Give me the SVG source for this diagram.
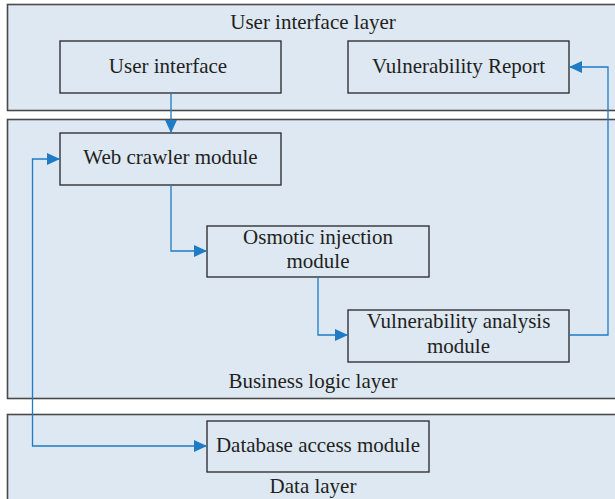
<svg xmlns="http://www.w3.org/2000/svg" width="615" height="499" viewBox="0 0 615 499">
  <style>
    .layer { fill: #dde8f3; stroke: #4a4a4a; stroke-width: 1.6; }
    .box { fill: #dde8f3; stroke: #333333; stroke-width: 1.4; }
    .label { font-family: "Liberation Serif", "Times New Roman", serif; font-size: 21px; fill: #231f20; text-anchor: middle; }
    .link { fill: none; stroke: #1f7bc4; stroke-width: 1.3; }
  </style>
  <defs>
    <marker id="arrow" viewBox="0 0 13 12" refX="13" refY="6" markerWidth="13" markerHeight="12" markerUnits="userSpaceOnUse" orient="auto-start-reverse">
      <path d="M0,0 L13,6 L0,12 Z" fill="#1f7bc4"/>
    </marker>
  </defs>

  <rect width="615" height="499" fill="#ffffff"/>

  <!-- layers -->
  <g id="user-interface-layer">
    <rect class="layer" x="7.5" y="4.5" width="620" height="106"/>
    <text class="label" x="313" y="29">User interface layer</text>
  </g>
  <g id="business-logic-layer">
    <rect class="layer" x="7.5" y="119.5" width="620" height="279"/>
    <text class="label" x="313" y="388">Business logic layer</text>
  </g>
  <g id="data-layer">
    <rect class="layer" x="7.5" y="414.5" width="620" height="100"/>
    <text class="label" x="313" y="493">Data layer</text>
  </g>

  <!-- modules -->
  <g id="user-interface">
    <rect class="box" x="60" y="41" width="221" height="52"/>
    <text class="label" x="168" y="73">User interface</text>
  </g>
  <g id="vulnerability-report">
    <rect class="box" x="348" y="41" width="221" height="52"/>
    <text class="label" x="458.5" y="73">Vulnerability Report</text>
  </g>
  <g id="web-crawler-module">
    <rect class="box" x="60" y="133" width="221" height="52"/>
    <text class="label" x="170.5" y="164">Web crawler module</text>
  </g>
  <g id="osmotic-injection-module">
    <rect class="box" x="207" y="226" width="222" height="51"/>
    <text class="label" x="318" y="244">Osmotic injection</text>
    <text class="label" x="318" y="268">module</text>
  </g>
  <g id="vulnerability-analysis-module">
    <rect class="box" x="348" y="310" width="221" height="52"/>
    <text class="label" x="458.5" y="328">Vulnerability analysis</text>
    <text class="label" x="458.5" y="353">module</text>
  </g>
  <g id="database-access-module">
    <rect class="box" x="207" y="421" width="222" height="51"/>
    <text class="label" x="318" y="452">Database access module</text>
  </g>

  <!-- connectors -->
  <g id="connectors">
    <path class="link" d="M171,93 V133" marker-end="url(#arrow)"/>
    <path class="link" d="M171,185 V251 H207" marker-end="url(#arrow)"/>
    <path class="link" d="M318,277 V335 H348" marker-end="url(#arrow)"/>
    <path class="link" d="M569,335 H608 V67 H569" marker-end="url(#arrow)"/>
    <path class="link" d="M60,159 H32.5 V446 H207" marker-start="url(#arrow)" marker-end="url(#arrow)"/>
  </g>
</svg>
